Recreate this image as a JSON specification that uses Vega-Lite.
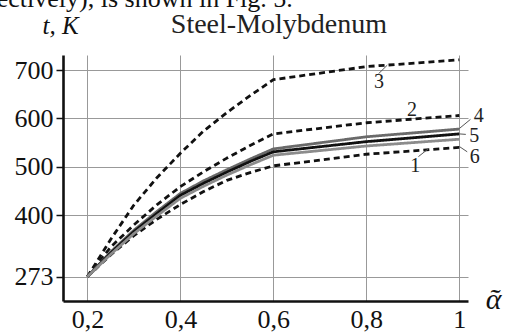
{
  "$schema": "https://vega.github.io/schema/vega-lite/v6.json",
  "width": 405,
  "height": 246,
  "autosize": {"type": "none"},
  "padding": {"left": 63, "top": 55, "right": 40, "bottom": 35},
  "background": "white",
  "config": {"view": {"stroke": null}, "font": "Liberation Serif, Times New Roman, serif"},
  "datasets": {
    "curves": [
      {"s": "1", "x": 0.2, "t": 273}, {"s": "1", "x": 0.25, "t": 318}, {"s": "1", "x": 0.3, "t": 358}, {"s": "1", "x": 0.35, "t": 392}, {"s": "1", "x": 0.4, "t": 422}, {"s": "1", "x": 0.45, "t": 449}, {"s": "1", "x": 0.5, "t": 472}, {"s": "1", "x": 0.55, "t": 488}, {"s": "1", "x": 0.6, "t": 502}, {"s": "1", "x": 0.8, "t": 526}, {"s": "1", "x": 1.0, "t": 540},
      {"s": "2", "x": 0.2, "t": 273}, {"s": "2", "x": 0.25, "t": 334}, {"s": "2", "x": 0.3, "t": 380}, {"s": "2", "x": 0.35, "t": 422}, {"s": "2", "x": 0.4, "t": 459}, {"s": "2", "x": 0.45, "t": 490}, {"s": "2", "x": 0.5, "t": 518}, {"s": "2", "x": 0.55, "t": 544}, {"s": "2", "x": 0.6, "t": 568}, {"s": "2", "x": 0.8, "t": 591}, {"s": "2", "x": 1.0, "t": 606},
      {"s": "3", "x": 0.2, "t": 273}, {"s": "3", "x": 0.25, "t": 350}, {"s": "3", "x": 0.3, "t": 421}, {"s": "3", "x": 0.35, "t": 478}, {"s": "3", "x": 0.4, "t": 528}, {"s": "3", "x": 0.45, "t": 574}, {"s": "3", "x": 0.5, "t": 612}, {"s": "3", "x": 0.55, "t": 647}, {"s": "3", "x": 0.6, "t": 680}, {"s": "3", "x": 0.8, "t": 707}, {"s": "3", "x": 1.0, "t": 721},
      {"s": "4", "x": 0.2, "t": 273}, {"s": "4", "x": 0.25, "t": 324}, {"s": "4", "x": 0.3, "t": 369}, {"s": "4", "x": 0.35, "t": 408}, {"s": "4", "x": 0.4, "t": 445}, {"s": "4", "x": 0.45, "t": 471}, {"s": "4", "x": 0.5, "t": 494}, {"s": "4", "x": 0.55, "t": 516}, {"s": "4", "x": 0.6, "t": 537}, {"s": "4", "x": 0.8, "t": 562}, {"s": "4", "x": 1.0, "t": 578},
      {"s": "5", "x": 0.2, "t": 273}, {"s": "5", "x": 0.25, "t": 322}, {"s": "5", "x": 0.3, "t": 366}, {"s": "5", "x": 0.35, "t": 404}, {"s": "5", "x": 0.4, "t": 441}, {"s": "5", "x": 0.45, "t": 466}, {"s": "5", "x": 0.5, "t": 489}, {"s": "5", "x": 0.55, "t": 511}, {"s": "5", "x": 0.6, "t": 531}, {"s": "5", "x": 0.8, "t": 552}, {"s": "5", "x": 1.0, "t": 568},
      {"s": "6", "x": 0.2, "t": 273}, {"s": "6", "x": 0.25, "t": 319}, {"s": "6", "x": 0.3, "t": 362}, {"s": "6", "x": 0.35, "t": 399}, {"s": "6", "x": 0.4, "t": 435}, {"s": "6", "x": 0.45, "t": 460}, {"s": "6", "x": 0.5, "t": 483}, {"s": "6", "x": 0.55, "t": 504}, {"s": "6", "x": 0.6, "t": 524}, {"s": "6", "x": 0.8, "t": 543}, {"s": "6", "x": 1.0, "t": 557}
    ],
    "leaders": [
      {"x": 0.826, "t": 692, "x2": 0.845, "t2": 710},
      {"x": 1.0, "t": 579, "x2": 1.024, "t2": 598},
      {"x": 1.0, "t": 568, "x2": 1.014, "t2": 567},
      {"x": 1.0, "t": 542, "x2": 1.017, "t2": 531},
      {"x": 0.912, "t": 521, "x2": 0.933, "t2": 537}
    ],
    "labels": [
      {"label": "1", "x": 0.905, "t": 502},
      {"label": "2", "x": 0.898, "t": 617},
      {"label": "3", "x": 0.827, "t": 676},
      {"label": "4", "x": 1.042, "t": 604},
      {"label": "5", "x": 1.032, "t": 564},
      {"label": "6", "x": 1.033, "t": 521}
    ],
    "texts": [
      {"label": "ectively), is shown in Fig. 5.", "x": 0.005, "t": 831, "anchor": "left"},
      {"label": "Steel-Molybdenum", "x": 0.612, "t": 776, "anchor": "center"}
    ]
  },
  "encoding": {
    "x": {
      "field": "x", "type": "quantitative",
      "scale": {"domain": [0.1475, 1.0187], "nice": false, "zero": false},
      "axis": {
        "values": [0.2, 0.4, 0.6, 0.8, 1],
        "labelExpr": "datum.value == 1 ? '1' : replace(format(datum.value, '.1f'), '.', ',')",
        "ticks": false, "labelPadding": 5, "labelFlush": false, "labelOverlap": false,
        "labelFont": "Liberation Serif, Times New Roman, serif", "labelFontSize": 26, "labelColor": "#111",
        "domainColor": "#111", "domainWidth": 2.6,
        "grid": true, "gridColor": "#999", "gridWidth": 1,
        "title": "ᾶ", "titleFont": "Liberation Serif, Times New Roman, serif", "titleFontStyle": "italic", "titleFontWeight": "normal", "titleFontSize": 30, "titleColor": "#111",
        "titleX": 430, "titleY": 7, "titleAlign": "center", "titleBaseline": "alphabetic"
      }
    },
    "y": {
      "field": "t", "type": "quantitative",
      "scale": {"domain": [222.8, 731], "nice": false, "zero": false},
      "axis": {
        "values": [273, 400, 500, 600, 700],
        "tickSize": 7, "tickWidth": 1.5, "tickColor": "#111", "labelPadding": 3, "labelFlush": false, "labelOverlap": false,
        "labelFont": "Liberation Serif, Times New Roman, serif", "labelFontSize": 26, "labelColor": "#111",
        "domainColor": "#111", "domainWidth": 2.6,
        "grid": true, "gridColor": "#999", "gridWidth": 1,
        "title": "t, K", "titleFont": "Liberation Serif, Times New Roman, serif", "titleFontStyle": "italic", "titleFontWeight": "normal", "titleFontSize": 25, "titleColor": "#111",
        "titleAngle": 0, "titleX": -3, "titleY": -22, "titleAlign": "center", "titleBaseline": "alphabetic"
      }
    }
  },
  "layer": [
    {
      "data": {"name": "curves"},
      "mark": {"type": "line", "strokeCap": "butt", "strokeJoin": "round"},
      "encoding": {
        "detail": {"field": "s"},
        "color": {"field": "s", "type": "nominal", "scale": {"domain": ["1", "2", "3", "4", "5", "6"], "range": ["#111", "#111", "#111", "#6a6a6a", "#111", "#8c8c8c"]}, "legend": null},
        "strokeDash": {"field": "s", "type": "nominal", "scale": {"domain": ["1", "2", "3", "4", "5", "6"], "range": [[6, 4], [6, 4], [6, 4], [1, 0], [1, 0], [1, 0]]}, "legend": null},
        "strokeWidth": {"field": "s", "type": "ordinal", "scale": {"domain": ["1", "2", "3", "4", "5", "6"], "range": [2.8, 2.8, 2.8, 2.6, 2.6, 2.2]}, "legend": null}
      }
    },
    {
      "data": {"name": "leaders"},
      "mark": {"type": "rule", "color": "#555", "strokeWidth": 1},
      "encoding": {"x2": {"field": "x2"}, "y2": {"field": "t2"}}
    },
    {
      "data": {"name": "labels"},
      "mark": {"type": "text", "font": "Liberation Serif, Times New Roman, serif", "fontSize": 20, "color": "#222", "align": "center", "baseline": "middle"},
      "encoding": {"text": {"field": "label"}}
    },
    {
      "data": {"name": "texts"},
      "transform": [{"filter": "datum.anchor == 'left'"}],
      "mark": {"type": "text", "font": "Liberation Serif, Times New Roman, serif", "fontSize": 26, "color": "#111", "align": "left", "baseline": "alphabetic"},
      "encoding": {"text": {"field": "label"}}
    },
    {
      "data": {"name": "texts"},
      "transform": [{"filter": "datum.anchor == 'center'"}],
      "mark": {"type": "text", "font": "Liberation Serif, Times New Roman, serif", "fontSize": 28, "color": "#222", "align": "center", "baseline": "alphabetic"},
      "encoding": {"text": {"field": "label"}}
    }
  ]
}
